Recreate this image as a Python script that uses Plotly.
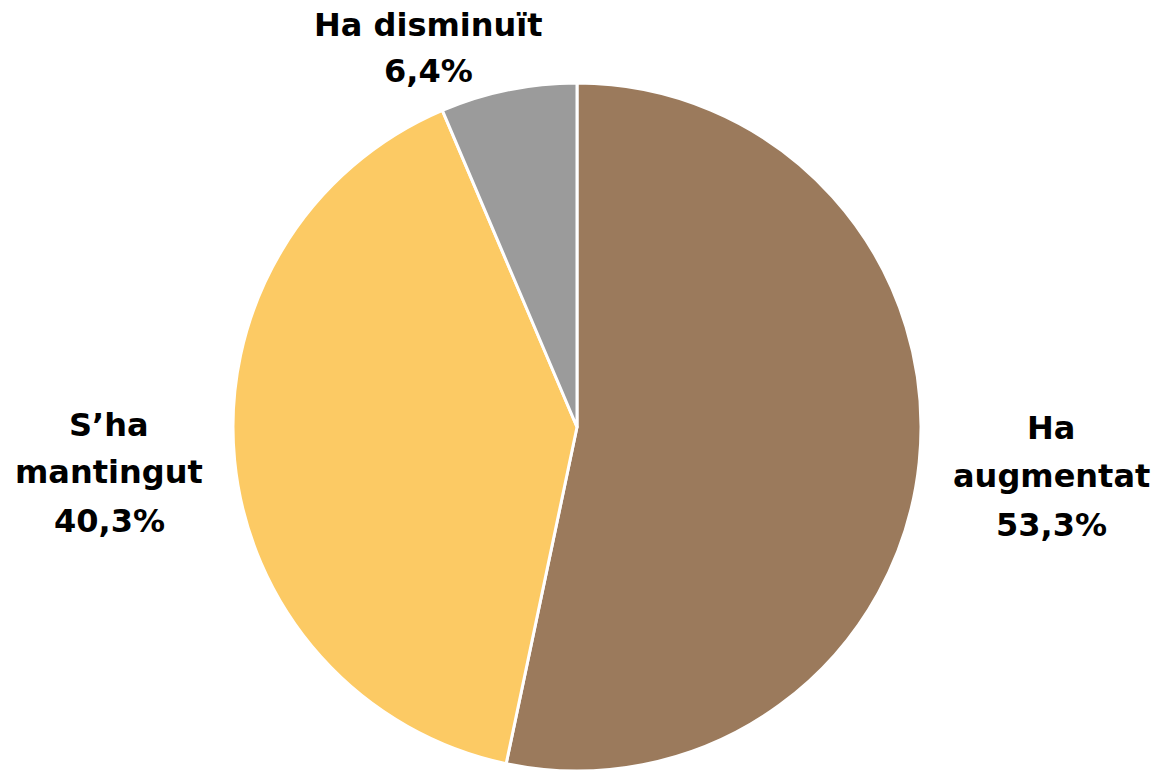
import plotly.graph_objects as go

labels = ["Ha augmentat", "S’ha mantingut", "Ha disminuït"]
values = [53.3, 40.3, 6.4]
colors = ["#9B7A5C", "#FCCA64", "#9B9B9B"]

W, H = 1159, 771
OFF = 0  # body margin removed via post_script

def fmt(v):
    return f"{v:.1f}".replace(".", ",") + "%"

def px(x):
    return (x - OFF) / W

def py(y):
    return 1 - (y - OFF) / H

fig = go.Figure()
fig.add_trace(go.Pie(
    labels=labels, values=values, sort=False, direction="clockwise", rotation=0,
    marker=dict(colors=colors, line=dict(color="white", width=3)),
    textinfo="none", hoverinfo="label+percent", showlegend=False,
    domain=dict(x=[px(232), px(922)], y=[0, py(83)]),
))

label_lines = [
    labels[0].split(" ", 1) + [fmt(values[0])],
    labels[1].split(" ", 1) + [fmt(values[1])],
    [labels[2], fmt(values[2])],
]
positions = [
    (1051, [440, 488, 537]),
    (109, [437, 484, 533]),
    (428, [37, 83]),
]
font = dict(family="DejaVu Sans", size=32, color="#000000", weight="bold")
annotations = []
for lines, (cx, bases) in zip(label_lines, positions):
    for line, b in zip(lines, bases):
        annotations.append(dict(
            x=px(cx), y=py(b - 12), xref="paper", yref="paper",
            text=line, showarrow=False, xanchor="center", yanchor="middle",
            font=font,
        ))

fig.update_layout(
    width=W, height=H, margin=dict(l=0, r=0, t=0, b=0),
    paper_bgcolor="white", plot_bgcolor="white",
    annotations=annotations,
)
fig.write_html("out.html", config={"displayModeBar": False},
               post_script="document.body.style.margin='0';")
